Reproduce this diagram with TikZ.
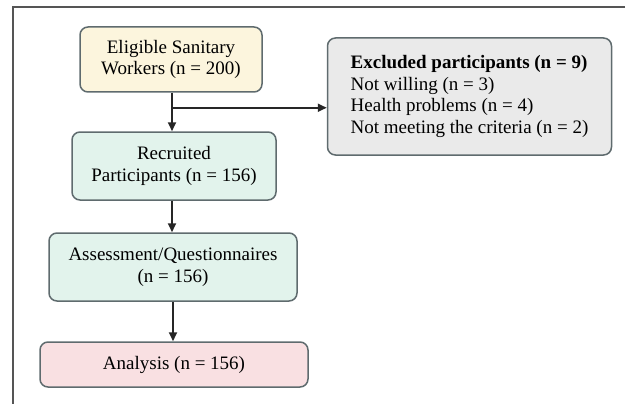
\documentclass[tikz,border=0pt]{standalone}
\usepackage{fontspec}
\setmainfont{Liberation Serif}
\usepackage{xcolor}
\usetikzlibrary{positioning}
\usetikzlibrary{arrows.meta}
\usetikzlibrary{calc}

\definecolor{boxline}{HTML}{5F6B6E}
\definecolor{yellowfill}{HTML}{FCF5DD}
\definecolor{mintfill}{HTML}{E2F3EC}
\definecolor{pinkfill}{HTML}{F9E0E2}
\definecolor{greyfill}{HTML}{EAEAEA}
\definecolor{framegrey}{HTML}{555555}

\tikzset{
  flowbox/.style={
    rectangle, rounded corners=8pt, draw=boxline, line width=1.5pt,
    align=center, inner sep=2pt,
    font=\fontsize{19}{21.5}\selectfont,
  },
  flowarrow/.style={->, line width=1.8pt, black!85},
}

\begin{document}
\begin{tikzpicture}[
    >={Triangle[length=9pt,width=8pt]},
    x=1pt, y=-1pt,
  ]

  \useasboundingbox (0,0) rectangle (635,404);

  % Outer frame
  \draw[framegrey, line width=1.3pt] (625,7) -- (13,7) -- (13,404);

  % Main column
  \node[flowbox, fill=yellowfill, minimum width=182pt, minimum height=65pt]
    (eligible) at (171,59.5) {Eligible Sanitary\\Workers (n = 200)};
  \node[flowbox, fill=mintfill, minimum width=204pt, minimum height=68pt]
    (recruited) at (174,166) {Recruited\\Participants (n = 156)};
  \node[flowbox, fill=mintfill, minimum width=248pt, minimum height=68pt]
    (assessment) at (173,267) {Assessment/Questionnaires\\(n = 156)};
  \node[flowbox, fill=pinkfill, minimum width=268pt, minimum height=45pt]
    (analysis) at (174,364.5) {Analysis (n = 156)};

  % Side box
  \node[flowbox, fill=greyfill, align=left, minimum width=284pt, minimum height=117pt]
    (excluded) at (469.5,96.5) {\textbf{Excluded participants (n = 9)}\\
      Not willing (n = 3)\\
      Health problems (n = 4)\\
      Not meeting the criteria (n = 2)};

  % Arrows down the column
  \coordinate (split) at ($(eligible.south)+(1,15)$);
  \draw[flowarrow] (eligible.south -| split) -- (split |- recruited.north);
  \draw[flowarrow] (recruited.south -| split) -- (split |- assessment.north);
  \draw[flowarrow] (assessment.south) -- (assessment.south |- analysis.north);

  % Arrow to the excluded box
  \draw[flowarrow] (split) -- (split -| excluded.west);

\end{tikzpicture}
\end{document}
